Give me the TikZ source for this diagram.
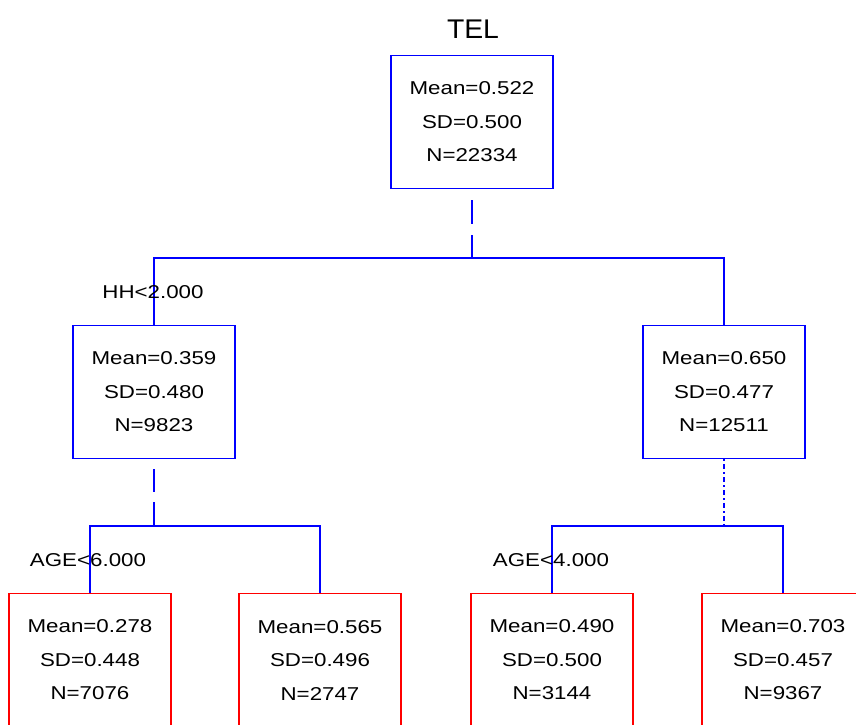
\documentclass[tikz,border=0pt]{standalone}
\usepackage{fontspec}
\newfontfamily\treefont[FakeStretch=1.2]{Liberation Sans}
\newfontfamily\titlefont[FakeStretch=1.05]{Liberation Sans}
\usetikzlibrary{positioning, calc}
\tikzset{
    splitbox/.style={rectangle, draw=blue, line width=1.9pt, minimum width=162pt, minimum height=133pt, align=center, font=\treefont\fontsize{18.6}{33.5}\selectfont},
    leafbox/.style={splitbox, draw=red},
    splitlabel/.style={font=\treefont\fontsize{18.6}{22}\selectfont, inner sep=0pt},
    branch/.style={draw=blue, line width=1.9pt},
    longdash/.style={branch, dash pattern=on 24pt off 11pt, dash phase=24pt},
    dotdash/.style={branch, line width=1.4pt, dash pattern=on 5pt off 3pt on 2pt off 3pt, dash phase=8pt}
}

\begin{document}
\begin{tikzpicture}[x=1pt, y=-1pt]
        \useasboundingbox (0,0) rectangle (856,724);
        \clip (0,0) rectangle (856,724);
        \node[font=\titlefont\fontsize{27}{30}\selectfont] (title) at (473,29) {TEL};
        \node[splitbox] (root) at (472,122) {Mean=0.522\\SD=0.500\\N=22334};
        \node[splitbox] (hhlo) at (154,392) {Mean=0.359\\SD=0.480\\N=9823};
        \node[splitbox] (hhhi) at (724,392) {Mean=0.650\\SD=0.477\\N=12511};
        \node[leafbox] (agelo1) at (90,660) {Mean=0.278\\SD=0.448\\N=7076};
        \node[leafbox] (agehi1) at (320,660) {Mean=0.565\\SD=0.496\\N=2747};
        \node[leafbox] (agelo2) at (552,660) {Mean=0.490\\SD=0.500\\N=3144};
        \node[leafbox] (agehi2) at (783,660) {Mean=0.703\\SD=0.457\\N=9367};
        % split points
        \coordinate (j0) at (472,258);
        \coordinate (j1) at (154,526);
        \coordinate (j2) at (724,526);
        \draw[longdash] (root.south) -- (j0);
        \draw[branch] (hhlo.north) |- (j0) -| (hhhi.north);
        \draw[longdash, dash pattern=on 23pt off 10pt, dash phase=23pt] (hhlo.south) -- (j1);
        \draw[branch] (agelo1.north) |- (j1) -| (agehi1.north);
        \draw[dotdash] (hhhi.south) -- (j2);
        \draw[branch] (agelo2.north) |- (j2) -| (agehi2.north);
        \node[splitlabel] (lab0) at (153,292) {HH<2.000};
        \node[splitlabel] (lab1) at (88,560) {AGE<6.000};
        \node[splitlabel] (lab2) at (551,560) {AGE<4.000};
    \end{tikzpicture}
\end{document}
